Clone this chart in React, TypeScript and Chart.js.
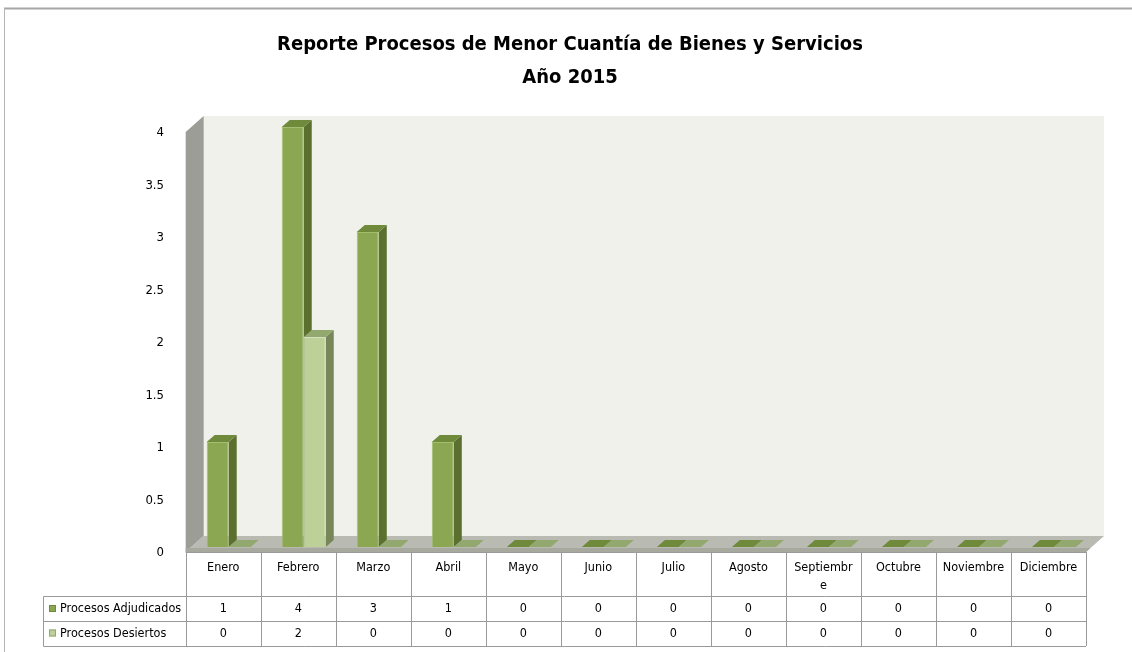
import React, { useEffect, useRef } from 'react';
import { Chart, registerables } from 'chart.js';

Chart.register(...registerables);

const TITLE_LINES = ['Reporte Procesos de Menor Cuantía de Bienes y Servicios', 'Año 2015'];
const categories = ['Enero', 'Febrero', 'Marzo', 'Abril', 'Mayo', 'Junio', 'Julio', 'Agosto', 'Septiembre', 'Octubre', 'Noviembre', 'Diciembre'];
const headerLabels = [['Enero'], ['Febrero'], ['Marzo'], ['Abril'], ['Mayo'], ['Junio'], ['Julio'], ['Agosto'], ['Septiembr', 'e'], ['Octubre'], ['Noviembre'], ['Diciembre']];
const seriesNames = ['Procesos Adjudicados', 'Procesos Desiertos'];
const adjudicados = [1, 4, 3, 1, 0, 0, 0, 0, 0, 0, 0, 0];
const desiertos = [0, 2, 0, 0, 0, 0, 0, 0, 0, 0, 0, 0];
const Y_MIN = 0;
const Y_MAX = 4;
const Y_STEP = 0.5;

const FONT = "'Liberation Sans Narrow', 'DejaVu Sans Condensed', 'Open Sans', sans-serif";
const W = 1132;
const H = 652;

const PALETTE = [
  { front: '#8CA752', side: '#5B6F2E', top: '#6F8A3B', border: '#A4BE6F', key: '#8CA752', keyBorder: '#6F8A3B' },
  { front: '#BDD097', side: '#77875A', top: '#93A86E', border: '#D4E1BF', key: '#BDD097', keyBorder: '#93A86E' },
];

const BAR_DX = 8;
const BAR_DY = 7;
const WALL_DX = 18;
const WALL_DY = 16;
const SHIFT = 5.5;

function poly(ctx: CanvasRenderingContext2D, pts: number[][], fill: string) {
  ctx.beginPath();
  ctx.moveTo(pts[0][0], pts[0][1]);
  for (let i = 1; i < pts.length; i++) ctx.lineTo(pts[i][0], pts[i][1]);
  ctx.closePath();
  ctx.fillStyle = fill;
  ctx.fill();
}

const scene3d = {
  id: 'scene3d',
  beforeDraw(chart: any) {
    const ctx = chart.ctx as CanvasRenderingContext2D;
    ctx.save();
    ctx.fillStyle = '#ffffff';
    ctx.fillRect(0, 0, chart.width, chart.height);
    ctx.strokeStyle = '#A6A6A6';
    ctx.lineWidth = 2;
    ctx.beginPath();
    ctx.moveTo(4, 8.5);
    ctx.lineTo(chart.width, 8.5);
    ctx.stroke();
    ctx.strokeStyle = '#B4B4B4';
    ctx.lineWidth = 1;
    ctx.beginPath();
    ctx.moveTo(4.5, 8);
    ctx.lineTo(4.5, chart.height);
    ctx.stroke();
    ctx.restore();
  },
  beforeDatasetsDraw(chart: any) {
    const ctx = chart.ctx as CanvasRenderingContext2D;
    const ya = chart.scales.y;
    const ca = chart.chartArea;
    const left = ca.left - SHIFT;
    const right = ca.right - SHIFT;
    const fBottom = ya.getPixelForValue(ya.min) + 5;
    const fTop = ya.getPixelForValue(ya.max) + 5;
    const bBottom = fBottom - WALL_DY;
    const bTop = fTop - WALL_DY;
    ctx.save();
    // back wall
    poly(ctx, [[left + WALL_DX, bTop], [right + WALL_DX, bTop], [right + WALL_DX, bBottom], [left + WALL_DX, bBottom]], '#EFF1EA');
    // side wall
    poly(ctx, [[left, fTop], [left + WALL_DX, bTop], [left + WALL_DX, bBottom], [left, fBottom]], '#9B9D96');
    // floor
    poly(ctx, [[left, fBottom], [right, fBottom], [right + WALL_DX, bBottom], [left + WALL_DX, bBottom]], '#B9BBB3');
    poly(ctx, [[left, fBottom - 4], [right + 4.5, fBottom - 4], [right, fBottom], [left, fBottom]], '#A7A99F');
    // bar side and top faces
    chart.data.datasets.forEach((ds: any, di: number) => {
      const meta = chart.getDatasetMeta(di);
      const pal = PALETTE[di];
      meta.data.forEach((el: any) => {
        const w = el.width;
        const x0 = el.x - w / 2;
        const x1 = el.x + w / 2;
        const top = Math.min(el.y, el.base);
        const bottom = Math.max(el.y, el.base);
        if (bottom - top > 0.5) {
          poly(ctx, [[x1, top], [x1 + BAR_DX, top - BAR_DY], [x1 + BAR_DX, bottom - BAR_DY], [x1, bottom]], pal.side);
        }
        poly(ctx, [[x0, top], [x1, top], [x1 + BAR_DX, top - BAR_DY], [x0 + BAR_DX, top - BAR_DY]], pal.top);
      });
    });
    ctx.restore();
  },
  afterDraw(chart: any) {
    const ctx = chart.ctx as CanvasRenderingContext2D;
    const ya = chart.scales.y;
    const xa = chart.scales.x;
    const ca = chart.chartArea;
    const n = categories.length;
    const colW = (ca.right - ca.left) / n;
    const tLeft = ca.left - SHIFT;
    const tRight = ca.right - SHIFT;
    const hTop = ya.getPixelForValue(ya.min) + 5;
    const hBottom = hTop + 44;
    const r1 = hBottom + 25;
    const r2 = r1 + 25;
    const labelLeft = 43.5;
    ctx.save();
    ctx.strokeStyle = '#9A9A9A';
    ctx.lineWidth = 1;
    ctx.beginPath();
    const hy = (v: number) => Math.round(v) + 0.5;
    ctx.moveTo(tLeft, hy(hTop)); ctx.lineTo(tRight, hy(hTop));
    [hBottom, r1, r2].forEach((yy) => { ctx.moveTo(labelLeft, hy(yy)); ctx.lineTo(tRight, hy(yy)); });
    for (let i = 0; i <= n; i++) {
      const x = hy(tLeft + i * colW);
      ctx.moveTo(x, hTop); ctx.lineTo(x, r2);
    }
    ctx.moveTo(labelLeft, hy(hBottom)); ctx.lineTo(labelLeft, hy(r2));
    ctx.stroke();

    ctx.fillStyle = '#000000';
    ctx.font = `12.5px ${FONT}`;
    ctx.textAlign = 'center';
    ctx.textBaseline = 'middle';
    for (let i = 0; i < n; i++) {
      const cx = xa.getPixelForValue(i) - SHIFT;
      headerLabels[i].forEach((line, li) => ctx.fillText(line, cx, hTop + 16 + li * 18));
      ctx.fillText(String(adjudicados[i]), cx, hBottom + 13);
      ctx.fillText(String(desiertos[i]), cx, r1 + 12.5);
    }
    const rowsMid = [hBottom + 13, r1 + 12.5];
    seriesNames.forEach((name, si) => {
      const pal = PALETTE[si];
      const cy = rowsMid[si];
      ctx.fillStyle = pal.key;
      ctx.fillRect(49, cy - 4, 7, 7);
      ctx.strokeStyle = pal.keyBorder;
      ctx.strokeRect(49.5, cy - 3.5, 6, 6);
      ctx.fillStyle = '#000000';
      ctx.textAlign = 'left';
      ctx.fillText(name, 60, cy);
    });
    ctx.restore();
  },
};

export default function App() {
  const ref = useRef<HTMLCanvasElement | null>(null);
  useEffect(() => {
    if (!ref.current) return;
    const chart = new Chart(ref.current, {
      type: 'bar',
      data: {
        labels: categories,
        datasets: [
          {
            label: seriesNames[0],
            data: adjudicados,
            backgroundColor: PALETTE[0].front,
            borderColor: PALETTE[0].border,
            borderWidth: 1,
            categoryPercentage: 0.5867,
            barPercentage: 1,
          },
          {
            label: seriesNames[1],
            data: desiertos,
            backgroundColor: PALETTE[1].front,
            borderColor: PALETTE[1].border,
            borderWidth: 1,
            categoryPercentage: 0.5867,
            barPercentage: 1,
          },
        ],
      },
      options: {
        responsive: false,
        animation: false,
        devicePixelRatio: 1,
        layout: { padding: { left: 8, right: 0, top: 0, bottom: 105 } },
        plugins: {
          legend: { display: false },
          tooltip: { enabled: false },
          title: {
            display: true,
            text: TITLE_LINES,
            color: '#000000',
            font: { family: FONT, size: 20, weight: 'bold', lineHeight: 1.65 },
            padding: { top: 28, bottom: 33 },
          },
        },
        scales: {
          x: { display: false },
          y: {
            position: 'left',
            min: Y_MIN,
            max: Y_MAX,
            grid: { display: false },
            border: { display: false },
            ticks: {
              stepSize: Y_STEP,
              color: '#000000',
              font: { family: FONT, size: 13 },
              padding: 19.2,
              labelOffset: 6,
              callback: (v: any) => `${v}`,
            },
            afterFit: (s: any) => { s.width = 183.2; },
          },
          yR: {
            position: 'right',
            display: true,
            grid: { display: false },
            border: { display: false },
            ticks: { display: false },
            afterFit: (s: any) => { s.width = 40.5; },
          },
        },
      },
      plugins: [scene3d],
    } as any);
    return () => chart.destroy();
  }, []);
  return (
    <div style={{ position: 'fixed', left: 0, top: 0, width: W, height: H, background: '#fff' }}>
      <canvas ref={ref} width={W} height={H} style={{ display: 'block', width: W, height: H }} />
    </div>
  );
}
